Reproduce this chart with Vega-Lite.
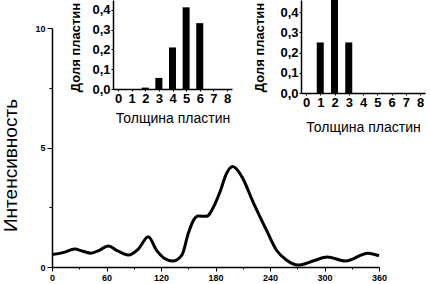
{
  "$schema": "https://vega.github.io/schema/vega-lite/v6.json",
  "width": 327,
  "height": 239,
  "autosize": {"type": "none"},
  "padding": {"left": 52, "top": 28, "right": 51, "bottom": 17},
  "background": "white",
  "config": {
    "view": {"stroke": null},
    "font": "Liberation Sans",
    "axis": {"grid": false, "domainColor": "black", "tickColor": "black", "labelColor": "black", "titleColor": "black", "labelFont": "Liberation Sans", "titleFont": "Liberation Sans"}
  },
  "datasets": {
    "curve": [
      {"angle": 0, "intensity": 0.52},
      {"angle": 12, "intensity": 0.6},
      {"angle": 25, "intensity": 0.75},
      {"angle": 34, "intensity": 0.66},
      {"angle": 43, "intensity": 0.58},
      {"angle": 52, "intensity": 0.7},
      {"angle": 62, "intensity": 0.88},
      {"angle": 72, "intensity": 0.68},
      {"angle": 84, "intensity": 0.5},
      {"angle": 95, "intensity": 0.75},
      {"angle": 106, "intensity": 1.27},
      {"angle": 115, "intensity": 0.71},
      {"angle": 124, "intensity": 0.36},
      {"angle": 133, "intensity": 0.25},
      {"angle": 143, "intensity": 0.5},
      {"angle": 150, "intensity": 1.4},
      {"angle": 156, "intensity": 1.97},
      {"angle": 161, "intensity": 2.13},
      {"angle": 170, "intensity": 2.12},
      {"angle": 179, "intensity": 2.6},
      {"angle": 185, "intensity": 3.15},
      {"angle": 192, "intensity": 3.9},
      {"angle": 199, "intensity": 4.2},
      {"angle": 209, "intensity": 3.78},
      {"angle": 221, "intensity": 2.75},
      {"angle": 236, "intensity": 1.55},
      {"angle": 247, "intensity": 0.71},
      {"angle": 258, "intensity": 0.29},
      {"angle": 271, "intensity": 0.08},
      {"angle": 288, "intensity": 0.26},
      {"angle": 303, "intensity": 0.42},
      {"angle": 323, "intensity": 0.25},
      {"angle": 348, "intensity": 0.58},
      {"angle": 360, "intensity": 0.47}
    ],
    "inset1": [
      {"thickness": 2, "share": 0.007},
      {"thickness": 3, "share": 0.056},
      {"thickness": 4, "share": 0.21},
      {"thickness": 5, "share": 0.413},
      {"thickness": 6, "share": 0.333}
    ],
    "inset2": [
      {"thickness": 1, "share": 0.25},
      {"thickness": 2, "share": 0.46},
      {"thickness": 3, "share": 0.25}
    ]
  },
  "layer": [
    {
      "data": {"name": "curve"},
      "mark": {"type": "line", "color": "black", "strokeWidth": 3, "interpolate": "monotone"},
      "encoding": {
        "x": {"field": "angle", "type": "quantitative", "scale": {"domain": [0, 360], "nice": false},
          "axis": {"values": [0, 30, 60, 90, 120, 150, 180, 210, 240, 270, 300, 330, 360], "labelExpr": "datum.value % 60 == 0 ? datum.label : ''", "tickSize": {"condition": {"test": "datum.value % 60 == 0", "value": 4}, "value": 2}, "labelFontSize": 9, "labelFontWeight": "bold", "labelPadding": 2, "domainWidth": 1.5, "title": null, "labelFlush": false}},
        "y": {"field": "intensity", "type": "quantitative", "scale": {"domain": [0, 10], "nice": false},
          "axis": {"values": [0, 2.5, 5, 7.5, 10], "labelExpr": "datum.value % 5 == 0 ? datum.label : ''", "tickSize": {"condition": {"test": "datum.value % 5 == 0", "value": 5}, "value": 3}, "labelFontSize": 9, "labelFontWeight": "bold", "labelPadding": 2, "domainWidth": 1.5,
            "title": "Интенсивность", "titleFontSize": 19, "titleFontWeight": "normal", "titleAngle": 270, "titleAlign": "center", "titleBaseline": "middle", "titleX": -42, "titleY": 137}}
      }
    },
    {
      "data": {"name": "inset1"},
      "mark": {"type": "bar", "color": "black", "size": 7},
      "encoding": {
        "x": {"field": "thickness", "type": "quantitative", "scale": {"domain": [0, 8], "nice": false, "range": [61, 180]},
          "axis": {"orient": "bottom", "offset": -178, "values": [0, 1, 2, 3, 4, 5, 6, 7, 8], "format": "d", "tickSize": 2, "labelFontSize": 13, "labelFontWeight": "bold", "labelPadding": 1, "domainWidth": 1.5, "labelFlush": false,
            "title": "Толщина пластин", "titleFontSize": 14, "titleFontWeight": "normal", "titleBaseline": "middle", "titleY": 29}},
        "y": {"field": "share", "type": "quantitative", "scale": {"domain": [0, 0.45], "nice": false, "range": [61, -28]},
          "axis": {"orient": "left", "offset": -61, "values": [0, 0.1, 0.2, 0.3, 0.4], "labelExpr": "replace(format(datum.value, '.1f'), '.', ',')", "tickSize": 2, "labelFontSize": 13, "labelFontWeight": "bold", "labelPadding": 1, "domainWidth": 1.5,
            "title": "Доля пластин", "titleFontSize": 13, "titleFontWeight": "bold", "titleAngle": 270, "titleAlign": "center", "titleBaseline": "middle", "titleX": -38, "titleY": 19}}
      }
    },
    {
      "data": {"name": "inset2"},
      "mark": {"type": "bar", "color": "black", "size": 7},
      "encoding": {
        "x": {"field": "thickness", "type": "quantitative", "scale": {"domain": [0, 8], "nice": false, "range": [249, 373]},
          "axis": {"orient": "bottom", "offset": -174, "values": [0, 1, 2, 3, 4, 5, 6, 7, 8], "format": "d", "tickSize": 2, "labelFontSize": 13, "labelFontWeight": "bold", "labelPadding": 1, "domainWidth": 1.5, "labelFlush": false,
            "title": "Толщина пластин", "titleFontSize": 14, "titleFontWeight": "normal", "titleBaseline": "middle", "titleY": 34}},
        "y": {"field": "share", "type": "quantitative", "scale": {"domain": [0, 0.46], "nice": false, "range": [65, -28]},
          "axis": {"orient": "left", "offset": -249, "values": [0, 0.1, 0.2, 0.3, 0.4], "labelExpr": "replace(format(datum.value, '.1f'), '.', ',')", "tickSize": 2, "labelFontSize": 13, "labelFontWeight": "bold", "labelPadding": 1, "domainWidth": 1.5,
            "title": "Доля пластин", "titleFontSize": 13, "titleFontWeight": "bold", "titleAngle": 270, "titleAlign": "center", "titleBaseline": "middle", "titleX": -42, "titleY": 19}}
      }
    }
  ],
  "resolve": {"scale": {"x": "independent", "y": "independent"}, "axis": {"x": "independent", "y": "independent"}}
}
